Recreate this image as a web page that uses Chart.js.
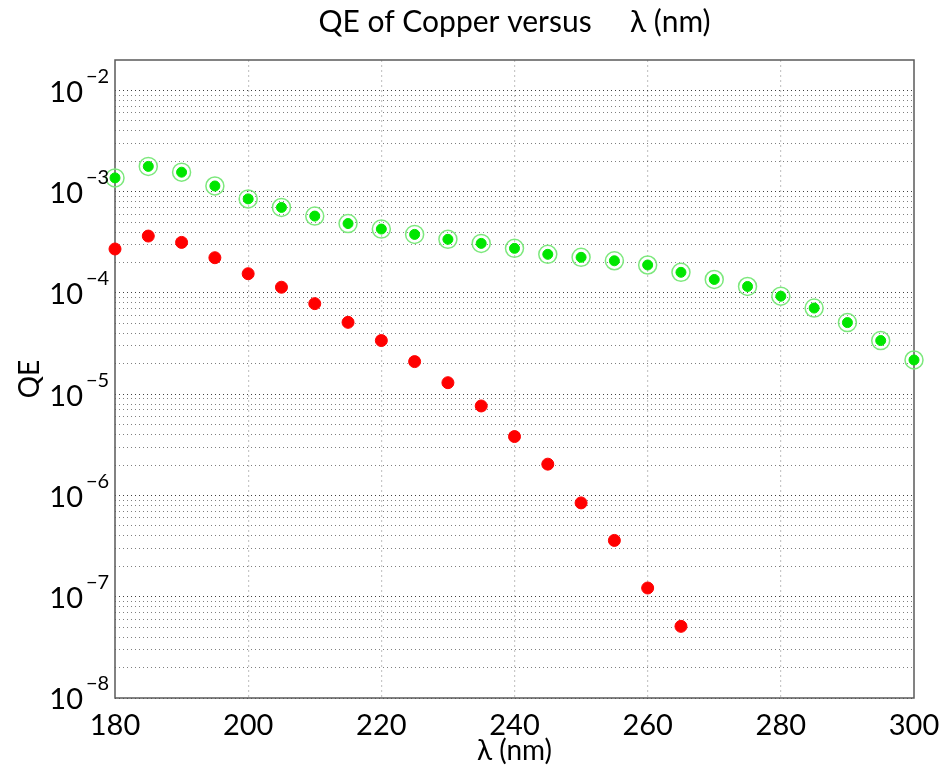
<!DOCTYPE html>
<html>
<head>
<meta charset="utf-8">
<script src="https://cdn.jsdelivr.net/npm/chart.js@4.4.1/dist/chart.umd.min.js"></script>
<style>
  html, body { margin: 0; padding: 0; background: #fff; }
  #wrap { width: 942px; height: 771px; }
</style>
</head>
<body>
<div id="wrap"><canvas id="qe-chart"></canvas></div>
<script>
// wavelengths (nm)
const wavelength_green = [180, 185, 190, 195, 200, 205, 210, 215, 220, 225, 230, 235, 240,
                          245, 250, 255, 260, 265, 270, 275, 280, 285, 290, 295, 300]
const qe_green = [1.37e-3, 1.78e-3, 1.56e-3, 1.14e-3, 8.5e-4, 7.0e-4, 5.75e-4, 4.85e-4, 4.28e-4,
                  3.79e-4, 3.39e-4, 3.09e-4, 2.76e-4, 2.41e-4, 2.25e-4, 2.08e-4, 1.89e-4, 1.60e-4,
                  1.36e-4, 1.16e-4, 9.3e-5, 7.1e-5, 5.1e-5, 3.39e-5, 2.18e-5]

const wavelength_red = [180, 185, 190, 195, 200, 205, 210, 215, 220, 225, 230, 235, 240,
                        245, 250, 255, 260, 265]
const qe_red = [2.72e-4, 3.65e-4, 3.16e-4, 2.23e-4, 1.55e-4, 1.14e-4, 7.85e-5, 5.13e-5, 3.39e-5,
                2.1e-5, 1.3e-5, 7.66e-6, 3.82e-6, 2.04e-6, 8.45e-7, 3.6e-7, 1.22e-7, 5.1e-8]

const x_ticks = [180, 200, 220, 240, 260, 280, 300]
const y_decades = [1e-8, 1e-7, 1e-6, 1e-5, 1e-4, 1e-3, 1e-2]
const y_exponents = ['−8', '−7', '−6', '−5', '−4', '−3', '−2']

const font_family = 'Lato, "Noto Sans", sans-serif'

function to_points(xs, ys) {
    return xs.map((x, i) => ({ x: x, y: ys[i] }))
}

// decade + minor grid lines (1..9 per decade)
let y_grid = []
y_decades.forEach(d => {
    if (d >= 1e-2) { y_grid.push(d); return }
    for (let m = 1; m < 10; m++) y_grid.push(m * d)
})

// axes box like matlab
const frame_plugin = {
    id: 'frame',
    beforeDatasetsDraw(chart) {
        const a = chart.chartArea
        const c = chart.ctx
        c.save()
        c.strokeStyle = '#5a5a5a'
        c.lineWidth = 1.5
        c.strokeRect(a.left, a.top, a.right - a.left, a.bottom - a.top)
        c.restore()
    }
}

// y tick labels with superscript exponents
const power_labels = {
    id: 'power_labels',
    afterDraw(chart) {
        const y = chart.scales.y
        const c = chart.ctx
        c.save()
        c.fillStyle = '#000'
        c.textBaseline = 'middle'
        y_decades.forEach((v, i) => {
            const py = y.getPixelForValue(v)
            c.font = '29px ' + font_family
            c.textAlign = 'right'
            c.fillText('10', 83, py + 2)
            c.font = '20px ' + font_family
            c.textAlign = 'left'
            c.fillText(y_exponents[i], 86, py - 14)
        })
        c.restore()
    }
}

let ctx = document.getElementById('qe-chart')

let data = {
    datasets: [
        {
            label: 'ring',
            data: to_points(wavelength_green, qe_green),
            pointRadius: 9,
            pointHoverRadius: 9,
            pointBackgroundColor: 'rgba(0,0,0,0)',
            pointBorderColor: '#7de87d',
            pointBorderWidth: 1.5,
            showLine: false,
            clip: false,
        },
        {
            label: 'green',
            data: to_points(wavelength_green, qe_green),
            pointRadius: 5,
            pointHoverRadius: 5,
            pointBackgroundColor: '#00e600',
            pointBorderColor: '#00e600',
            pointBorderWidth: 1,
            showLine: false,
            clip: false,
        },
        {
            label: 'red',
            data: to_points(wavelength_red, qe_red),
            pointRadius: 6,
            pointHoverRadius: 6,
            pointBackgroundColor: '#ff0000',
            pointBorderColor: '#ff0000',
            pointBorderWidth: 1,
            showLine: false,
            clip: false,
        }
    ]
}

let options = {
    responsive: true,
    maintainAspectRatio: false,
    animation: false,
    layout: { padding: { left: 0, right: 28, top: 0, bottom: 0 } },
    plugins: {
        legend: { display: false },
        tooltip: { enabled: false },
        title: {
            display: true,
            fullSize: false,
            text: 'QE of Copper versus     λ (nm)',
            color: '#000',
            font: { family: font_family, size: 30, weight: 'normal', lineHeight: 1.2 },
            padding: { top: 4, bottom: 20 }
        }
    },
    scales: {
        x: {
            type: 'linear',
            min: 180,
            max: 300,
            afterBuildTicks: s => { s.ticks = x_ticks.map(v => ({ value: v })) },
            afterFit: s => { s.height = 73; s.paddingRight = 0; s.paddingLeft = 0 },
            grid: {
                color: ctx2 => (ctx2.tick.value === 180 || ctx2.tick.value === 300) ? 'rgba(0,0,0,0)' : '#c8c8c8',
                lineWidth: 1.2,
                drawTicks: false,
            },
            border: { display: false, dash: [2, 3] },
            ticks: {
                color: '#000',
                padding: 10,
                maxRotation: 0,
                font: { family: font_family, size: 29 }
            },
            title: {
                display: true,
                text: 'λ (nm)',
                color: '#000',
                font: { family: font_family, size: 28, lineHeight: 1 },
                padding: { top: 0, bottom: 6 }
            }
        },
        y: {
            type: 'logarithmic',
            min: 1e-8,
            max: 2e-2,
            afterBuildTicks: s => { s.ticks = y_grid.map(v => ({ value: v })) },
            afterFit: s => { s.width = 115 },
            grid: {
                color: ctx2 => {
                    const v = ctx2.tick.value
                    const e = Math.log10(v)
                    return Math.abs(e - Math.round(e)) < 1e-6 ? 'rgba(0,0,0,0.75)' : 'rgba(0,0,0,0.5)'
                },
                lineWidth: 1,
                drawTicks: false,
            },
            border: { display: false, dash: [1, 3] },
            ticks: { display: false },
            title: {
                display: true,
                text: 'QE',
                color: '#000',
                font: { family: font_family, size: 28, lineHeight: 1 },
                padding: { top: 16, bottom: 0 }
            }
        }
    }
}

let my_chart = new Chart(ctx, {
    type: 'scatter',
    data: data,
    options: options,
    plugins: [frame_plugin, power_labels]
})
</script>
</body>
</html>
